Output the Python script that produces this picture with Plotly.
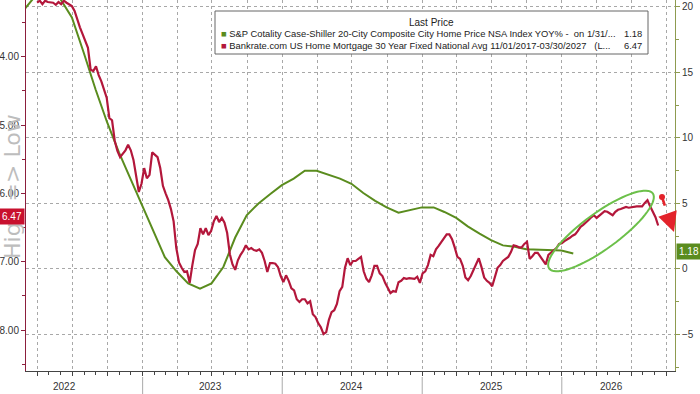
import math
import pandas as pd
import plotly.graph_objects as go

# ---------------- data ----------------
# S&P Cotality Case-Shiller 20-City YoY % (month-end, right axis)
cs_start = "2022-01-31"
cs_vals = [19.1, 19.9, 21.0, 21.4, 20.6, 19.2, 16.5, 13.7, 11.2, 8.9, 6.9, 4.8,
           2.8, 0.9, -0.2, -1.1, -1.5, -1.1, 0.15, 2.4, 4.1, 5.0, 5.7, 6.4,
           6.9, 7.5, 7.5, 7.2, 6.9, 6.5, 5.8, 5.2, 4.7, 4.3, 4.5, 4.7,
           4.7, 4.35, 3.9, 3.25, 2.7, 2.2, 1.8, 1.7, 1.5, 1.45, 1.45, 1.4,
           1.18]

# Bankrate 30y fixed mortgage rate (weekly, plotted shifted forward, left inverted axis)
mort_start = "2022-03-31"
mort_vals = [3.21, 3.18, 3.23, 3.18, 3.20, 3.21, 3.21, 3.24, 3.20, 3.23, 3.18, 3.21, 3.23, 3.26,
             3.33, 3.46, 3.57, 3.67, 3.78, 3.87,
             4.19, 4.21, 4.14, 4.27, 4.36, 4.47, 4.60, 4.90, 4.93, 5.23,
             5.38, 5.47, 5.42, 5.37, 5.29, 5.37, 5.51, 5.76, 5.98, 5.86,
             5.63, 5.78, 5.73, 5.40, 5.44, 5.47, 5.63, 5.89, 6.00, 6.10,
             6.23, 6.41, 6.80, 7.01, 7.09, 7.15, 7.14, 7.31, 7.05, 6.83,
             6.74, 6.51, 6.60, 6.51, 6.61, 6.55, 6.41, 6.33, 6.42, 6.36,
             6.43, 6.58, 6.89, 7.04, 7.12, 6.98, 6.90, 6.84, 6.76, 6.82,
             6.80, 6.83, 6.84, 6.82, 6.87, 6.99, 7.15, 7.02, 7.02, 7.03,
             7.08, 7.21, 7.30, 7.20, 7.28, 7.39, 7.42, 7.55, 7.59, 7.55,
             7.55, 7.61, 7.58, 7.77, 7.81, 7.90, 7.96, 8.06, 8.03, 7.85,
             7.74, 7.71, 7.62, 7.43, 7.37, 7.09, 6.95, 7.05, 6.99, 6.99,
             6.96, 6.93, 7.14, 7.25, 7.30, 7.20, 7.06, 7.06, 7.17, 7.21,
             7.31, 7.39, 7.46, 7.43, 7.44, 7.30, 7.28, 7.24, 7.25, 7.24,
             7.24, 7.25, 7.22, 7.31, 7.17, 7.14, 7.05, 6.90, 6.92, 6.82,
             6.77, 6.71, 6.67, 6.60, 6.60, 6.67, 6.79, 6.93, 6.96, 7.06,
             7.23, 7.27, 7.21, 7.12, 7.05, 6.95, 7.08, 7.23, 7.28, 7.31,
             7.36, 7.24, 7.09, 7.05, 6.99, 6.96, 6.93, 6.86, 6.76, 6.77,
             6.79, 6.79, 6.74, 6.71, 6.96, 6.92, 6.87, 6.87, 6.93, 6.99,
             7.04, 6.90, 6.87, 6.83, 6.80, 6.74, 6.73, 6.70, 6.68, 6.65,
             6.62, 6.60, 6.55, 6.49, 6.46, 6.43, 6.39, 6.35, 6.32, 6.36,
             6.33, 6.29, 6.26, 6.27, 6.30, 6.32, 6.27, 6.24, 6.23, 6.21,
             6.20, 6.21, 6.20, 6.19, 6.19, 6.19, 6.19, 6.14, 6.10, 6.19,
             6.27, 6.35, 6.47]

year_labels = ["2022", "2023", "2024", "2025", "2026"]
year_label_dates = ["2022-06-10", "2023-06-28", "2024-06-30", "2025-06-30", "2026-05-12"]
year_separators = ["2023-01-01", "2024-01-01", "2025-01-01", "2026-01-01"]

cs_name = "S&P Cotality Case-Shiller 20-City Composite City Home Price NSA Index YOY% -  on 1/31/..."
mort_name = "Bankrate.com US Home Mortgage 30 Year Fixed National Avg 11/01/2017-03/30/2027   (L..."
cs_last = "1.18"
mort_last = "6.47"

x_range = ["2022-03-02", "2026-10-24"]
cs_range = [-7.79, 20.53]
mort_range = [8.60, 3.17]

cs_dates = pd.date_range(cs_start, periods=len(cs_vals), freq="ME")
mort_dates = pd.date_range(mort_start, periods=len(mort_vals), freq="7D")

GREEN = "#5A8C1E"
RED = "#B3173B"
W, H = 700, 394
ML, MR, MT, MB = 26, 25, 0, 23
PW, PH = W - ML - MR, H - MT - MB


def px(xp):
    return (xp - ML) / PW


def py(yp):
    return (MT + PH - yp) / PH


fig = go.Figure()
fig.add_trace(go.Scatter(x=cs_dates, y=cs_vals, mode="lines", xaxis="x", yaxis="y",
                         line=dict(color=GREEN, width=2), showlegend=False, hoverinfo="skip"))
fig.add_trace(go.Scatter(x=mort_dates, y=mort_vals, mode="lines", xaxis="x", yaxis="y2",
                         line=dict(color=RED, width=2.2), showlegend=False, hoverinfo="skip"))

grid = "#A8A8A8"
fig.update_layout(
    width=W, height=H,
    margin=dict(l=ML, r=MR, t=MT, b=MB),
    paper_bgcolor="white", plot_bgcolor="white",
    font=dict(family="Liberation Sans, Arial, sans-serif", size=10, color="#222"),
    showlegend=False,
    xaxis=dict(type="date", range=x_range, showline=True, linecolor="#444", linewidth=1,
               ticks="outside", ticklen=4, tickcolor="#444", dtick="M3", tick0="2022-01-01",
               showticklabels=False, showgrid=True, gridcolor=grid, griddash="dot", gridwidth=1,
               minor=dict(dtick="M1", ticks="outside", ticklen=3, tickcolor="#444", showgrid=False),
               zeroline=False, automargin=False, fixedrange=True),
    yaxis=dict(range=cs_range, side="right", showline=True, linecolor="#8E9B50", linewidth=1,
               ticks="outside", ticklen=4, tickcolor="#8E9B50", dtick=5, tick0=0,
               tickfont=dict(size=10, color="#333"),
               showgrid=True, gridcolor=grid, griddash="dot", gridwidth=1,
               minor=dict(dtick=2.5, ticks="outside", ticklen=3, tickcolor="#8E9B50", showgrid=False),
               zeroline=False, automargin=False),
    yaxis2=dict(range=mort_range, side="left", overlaying="y", showline=True, linecolor="#8C1F3D",
                linewidth=1, ticks="outside", ticklen=4, tickcolor="#8C1F3D", dtick=1, tick0=4,
                tickformat=".2f", tickfont=dict(size=10, color="#333"), showgrid=False,
                minor=dict(dtick=0.5, ticks="outside", ticklen=3, tickcolor="#8C1F3D", showgrid=False),
                zeroline=False, automargin=False),
)

shapes = []
annotations = []

# axis title (drawn first so the value tag sits over it)
annotations.append(dict(x=px(12), y=py(187), xref="paper", yref="paper", text="High => Low",
                        showarrow=False, textangle=-90,
                        font=dict(family="DejaVu Sans, Verdana, sans-serif", size=22, color="#BDBDBD"),
                        xanchor="center", yanchor="middle"))

# year labels and separators
for lab, d in zip(year_labels, year_label_dates):
    annotations.append(dict(x=d, y=py(386), xref="x", yref="paper", text=lab, showarrow=False,
                            font=dict(size=10, color="#333"), xanchor="center", yanchor="middle"))
for d in year_separators:
    shapes.append(dict(type="line", xref="x", yref="paper", x0=d, x1=d, y0=py(377), y1=py(394),
                       line=dict(color="#AAAAAA", width=1)))

# legend box
shapes.append(dict(type="rect", xref="paper", yref="paper", x0=px(215), x1=px(648), y0=py(54), y1=py(11),
                   line=dict(color="#666", width=1), fillcolor="white", layer="above"))
annotations.append(dict(x=px(431), y=py(23), xref="paper", yref="paper", text="Last Price", showarrow=False,
                        font=dict(size=10, color="#222"), xanchor="center", yanchor="middle"))
annotations.append(dict(x=px(219), y=py(33.5), xref="paper", yref="paper",
                        text=f"<span style='color:{GREEN}'>■</span> " + cs_name.replace("&", "&amp;"),
                        showarrow=False, font=dict(size=9.4, color="#222"), xanchor="left", yanchor="middle"))
annotations.append(dict(x=px(219), y=py(45), xref="paper", yref="paper",
                        text=f"<span style='color:{RED}'>■</span> " + mort_name,
                        showarrow=False, font=dict(size=9.4, color="#222"), xanchor="left", yanchor="middle"))
annotations.append(dict(x=px(644), y=py(33.5), xref="paper", yref="paper", text=cs_last, showarrow=False,
                        font=dict(size=9.4, color="#222"), xanchor="right", yanchor="middle"))
annotations.append(dict(x=px(644), y=py(45), xref="paper", yref="paper", text=mort_last, showarrow=False,
                        font=dict(size=9.4, color="#222"), xanchor="right", yanchor="middle"))

# last-value tags
annotations.append(dict(x=0, y=float(mort_last), xref="paper", yref="y2", text=mort_last, showarrow=False,
                        xanchor="right", yanchor="middle", xshift=-1, yshift=9,
                        bgcolor="#C8102E", borderpad=2, font=dict(size=10, color="white")))
annotations.append(dict(x=1, y=float(cs_last), xref="paper", yref="y", text=cs_last, showarrow=False,
                        xanchor="left", yanchor="middle", xshift=1, yshift=2,
                        bgcolor="#5A8C1E", borderpad=2, font=dict(size=10, color="white")))

# ellipse highlight
cx, cy, a, b, ang = 601, 231, 64, 18, math.radians(36)
pts = []
for k in range(73):
    t = 2 * math.pi * k / 72
    ex = a * math.cos(t)
    ey = b * math.sin(t)
    xx = cx + ex * math.cos(ang) - ey * math.sin(ang)
    yy = cy - (ex * math.sin(ang) + ey * math.cos(ang))
    pts.append((px(xx), py(yy)))
path = "M " + " L ".join(f"{p[0]:.5f},{p[1]:.5f}" for p in pts) + " Z"
shapes.append(dict(type="path", xref="paper", yref="paper", path=path,
                   line=dict(color="#6CC04A", width=2)))

# red dashed arrow
ARROW = "#E3232B"
shapes.append(dict(type="circle", xref="paper", yref="paper", x0=px(659), x1=px(665), y0=py(200), y1=py(194),
                   fillcolor=ARROW, line=dict(color=ARROW, width=0)))
shapes.append(dict(type="line", xref="paper", yref="paper", x0=px(662), y0=py(197), x1=px(668), y1=py(215),
                   line=dict(color=ARROW, width=2.6, dash="dash")))
annotations.append(dict(x=px(674), y=py(232), xref="paper", yref="paper", ax=-6, ay=-17, text="",
                        showarrow=True, arrowhead=2, arrowsize=1.5, arrowwidth=2.6, arrowcolor=ARROW))

fig.update_layout(shapes=shapes, annotations=annotations)
fig.write_html("out.html", config={"displayModeBar": False},
               post_script="document.body.style.margin='0';document.body.style.padding='0';")
